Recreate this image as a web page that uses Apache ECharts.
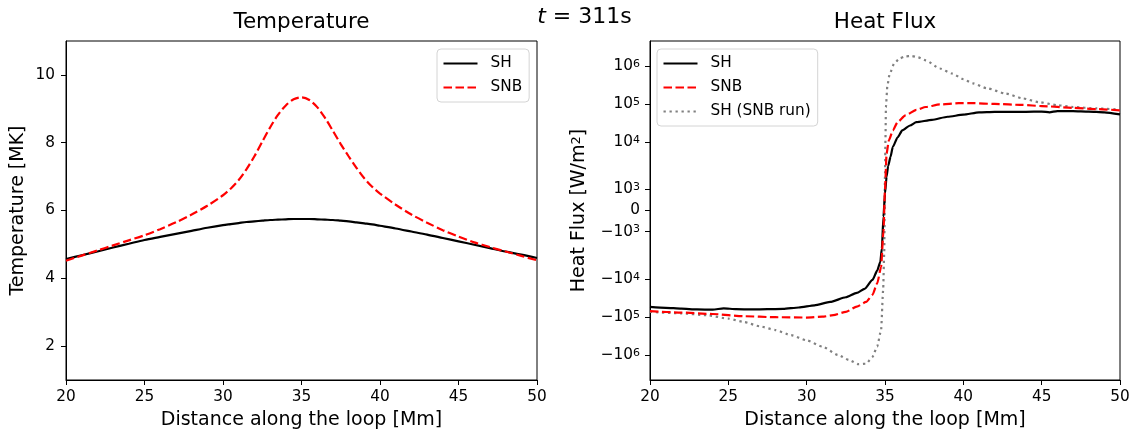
<!DOCTYPE html>
<html><head><meta charset="utf-8">
<script src="https://cdn.jsdelivr.net/npm/echarts@6/dist/echarts.min.js"></script>
<style>html,body{margin:0;padding:0;background:#fff}#c{width:1136px;height:439px}</style>
</head><body><div id="c"></div>
<script>
// ---- Temperature panel data (Mm, MK) ----
const tempX = [20,21,22,23,24,25,26,27,28,29,30,30.5,31,31.5,32,32.5,33,33.5,34,34.5,35,35.5,36,36.5,37,37.5,38,38.5,39,39.5,40,41,42,43,44,45,46,47,48,49,50];
const tempSH = [4.57,4.68,4.79,4.91,5.02,5.13,5.22,5.31,5.40,5.49,5.57,5.60,5.63,5.66,5.68,5.70,5.72,5.73,5.74,5.75,5.75,5.75,5.74,5.73,5.72,5.70,5.68,5.65,5.62,5.59,5.55,5.47,5.38,5.29,5.19,5.09,4.99,4.89,4.79,4.70,4.60];
const tempSNB = [4.52,4.67,4.82,4.97,5.12,5.27,5.45,5.65,5.88,6.14,6.45,6.65,6.9,7.22,7.6,8.03,8.45,8.82,9.1,9.28,9.34,9.26,9.05,8.73,8.35,7.96,7.6,7.26,6.95,6.7,6.5,6.17,5.88,5.64,5.42,5.23,5.06,4.92,4.79,4.66,4.53];
const tempTicks = [2,4,6,8,10];
const xTicks = [20,25,30,35,40,45,50];

// ---- Heat flux panel data (Mm, W/m^2) ----
const fluxX_SH = [20,21,22,23,24,24.7,25.5,26.5,27.5,28.5,29.5,30.5,31.5,32.5,33.2,33.7,34.2,34.5,34.7,34.8,34.9,35.0,35.1,35.2,35.35,35.5,35.8,36.1,36.6,37,38,39,40,41,42,43,44,45,45.5,46,47,48,49,50];
const fluxSH = [-5.4e4,-5.7e4,-6.0e4,-6.3e4,-6.4e4,-5.9e4,-6.2e4,-6.3e4,-6.2e4,-6.1e4,-5.6e4,-4.9e4,-4.0e4,-3.0e4,-2.3e4,-1.8e4,-1.05e4,-6e3,-3.5e3,-1.8e3,-300,800,1600,2300,4000,7400,1.3e4,2.0e4,2.7e4,3.3e4,3.8e4,4.6e4,5.2e4,6.0e4,6.2e4,6.2e4,6.2e4,6.3e4,6.0e4,6.5e4,6.5e4,6.3e4,6.0e4,5.3e4];
const fluxX_SNB = [20,22,24,26,28,30,31,31.7,32.5,33.2,33.8,34.2,34.5,34.75,34.9,35.0,35.1,35.25,35.5,35.8,36.3,37,37.6,38.5,39.7,40.6,42,43.8,45,47,48.5,50];
const fluxSNB = [-7.0e4,-7.6e4,-8.3e4,-9.5e4,-1.01e5,-1.03e5,-9.8e4,-8.9e4,-7.3e4,-5.3e4,-4.0e4,-2.6e4,-1.3e4,-4.8e3,-1.0e3,1.0e3,4.9e3,1.1e4,2.0e4,3.3e4,5.0e4,7.0e4,8.3e4,9.7e4,1.05e5,1.05e5,1.0e5,9.4e4,8.8e4,7.9e4,7.3e4,6.8e4];
const fluxX_RUN = [20,22,23.6,25,26,27,28,29,30,31,32,32.7,33.3,33.8,34.2,34.5,34.75,34.88,34.95,35.0,35.03,35.06,35.15,35.3,35.6,35.95,36.3,36.7,37.1,37.6,38.5,39.3,40,40.6,41.5,42.7,43.8,44.8,46,47,48.5,50];
const fluxRUN = [-7.3e4,-8.0e4,-8.9e4,-1.1e5,-1.35e5,-1.75e5,-2.2e5,-3.0e5,-4.1e5,-6.0e5,-1.0e6,-1.35e6,-1.75e6,-1.7e6,-1.12e6,-6e5,-2.2e5,-2.0e4,-2.0e3,1.7e3,1.2e4,8.3e4,3.0e5,6.3e5,1.2e6,1.6e6,1.8e6,1.84e6,1.7e6,1.41e6,8.6e5,6.3e5,4.5e5,3.5e5,2.6e5,1.88e5,1.4e5,1.12e5,9.3e4,8.3e4,7.6e4,7.1e4];
const fluxTicks = [-1e6,-1e5,-1e4,-1e3,0,1e3,1e4,1e5,1e6];
const fluxTickLabels = ['−10{s|6}','−10{s|5}','−10{s|4}','−10{s|3}','0','10{s|3}','10{s|4}','10{s|5}','10{s|6}'];

// symmetric log scale (linthresh 2000, linscale 1, base 10)
const LT = 2000, LS = 1 / (1 - 1 / 10);
function symlog(v) {
  const a = Math.abs(v);
  const t = a <= LT ? a / LT * LS : LS + Math.log10(a / LT);
  return v < 0 ? -t : t;
}
const FONT = 'DejaVu Sans';
const zip = (xs, ys, f) => xs.map((x, i) => [x, f ? f(ys[i]) : ys[i]]);

const axisCommon = {
  axisLine: {show: true, onZero: false, lineStyle: {color: '#000', width: 1}},
  axisTick: {show: true, length: 5, lineStyle: {color: '#000', width: 1}},
  splitLine: {show: false},
  nameTextStyle: {fontFamily: FONT, fontSize: 19, color: '#000'}
};
const labelCommon = {fontFamily: FONT, fontSize: 15.3, color: '#000'};
const legendCommon = {
  orient: 'vertical', top: 49,
  itemWidth: 34, itemHeight: 14, itemGap: 9, padding: [7, 7, 7, 5.5],
  borderColor: '#d4d4d4', borderWidth: 1, borderRadius: 4, backgroundColor: 'rgba(255,255,255,0.8)',
  itemStyle: {opacity: 0},
  textStyle: {fontFamily: FONT, fontSize: 15.3, color: '#000', lineHeight: 14, padding: [0, 0, 0, 8]}
};

const chart = echarts.init(document.getElementById('c'), null, {renderer: 'canvas'});
chart.setOption({
  animation: false,
  backgroundColor: '#fff',
  grid: [
    {left: 66, top: 41, width: 471, height: 339, show: true, borderColor: '#000', borderWidth: 1},
    {left: 650, top: 41, width: 470, height: 339, show: true, borderColor: '#000', borderWidth: 1}
  ],
  xAxis: [0, 1].map(g => Object.assign({}, axisCommon, {
    type: 'value', gridIndex: g, min: 20, max: 50,
    name: 'Distance along the loop [Mm]', nameLocation: 'middle', nameGap: 31,
    axisTick: Object.assign({}, axisCommon.axisTick, {customValues: xTicks}),
    axisLabel: Object.assign({}, labelCommon, {margin: 10, customValues: xTicks})
  })),
  yAxis: [
    Object.assign({}, axisCommon, {
      type: 'value', gridIndex: 0, min: 1, max: 11,
      name: 'Temperature [MK]', nameLocation: 'middle', nameGap: 38,
      axisTick: Object.assign({}, axisCommon.axisTick, {customValues: tempTicks}),
      axisLabel: Object.assign({}, labelCommon, {margin: 11, customValues: tempTicks})
    }),
    Object.assign({}, axisCommon, {
      type: 'value', gridIndex: 1, min: -4.47, max: 4.47,
      name: 'Heat Flux [W/m{s|2}]', nameLocation: 'middle', nameGap: 61,
      nameTextStyle: {fontFamily: FONT, fontSize: 19, color: '#000',
        rich: {s: {fontFamily: FONT, fontSize: 13, color: '#000', verticalAlign: 'top'}}},
      axisTick: Object.assign({}, axisCommon.axisTick, {customValues: fluxTicks.map(symlog)}),
      axisLabel: Object.assign({}, labelCommon, {
        margin: 10, customValues: fluxTicks.map(symlog),
        formatter: function (val) {
          let best = 0, bd = Infinity;
          fluxTicks.forEach((t, i) => { const d = Math.abs(symlog(t) - val); if (d < bd) { bd = d; best = i; } });
          return fluxTickLabels[best];
        },
        rich: {s: {fontFamily: FONT, fontSize: 11, color: '#000', verticalAlign: 'top'}}
      })
    })
  ],
  legend: [
    Object.assign({}, legendCommon, {data: ['SH', 'SNB'], left: 437}),
    Object.assign({}, legendCommon, {data: ['SH', 'SNB', 'SH (SNB run)'], left: 657})
  ],
  graphic: [
    {type: 'text', x: 301.5, y: 22, style: {text: 'Temperature', fontFamily: FONT, fontSize: 21.5, fill: '#000', align: 'center', verticalAlign: 'middle'}},
    {type: 'text', x: 885, y: 22, style: {text: 'Heat Flux', fontFamily: FONT, fontSize: 21.5, fill: '#000', align: 'center', verticalAlign: 'middle'}},
    {type: 'text', x: 584.5, y: 17, style: {text: '{i|t} = 311s', fontFamily: FONT, fontSize: 22, fill: '#000', align: 'center', verticalAlign: 'middle',
      rich: {i: {fontFamily: FONT, fontSize: 22, fontStyle: 'italic', fill: '#000'}}}}
  ],
  series: [
    {name: 'SH', type: 'line', xAxisIndex: 0, yAxisIndex: 0, data: zip(tempX, tempSH), showSymbol: false, symbol: 'none', smooth: 0.3,
     lineStyle: {color: '#000', width: 2.2}, itemStyle: {color: '#000'}, z: 3},
    {name: 'SNB', type: 'line', xAxisIndex: 0, yAxisIndex: 0, data: zip(tempX, tempSNB), showSymbol: false, symbol: 'none', smooth: 0.3,
     lineStyle: {color: '#ff0000', width: 2.2, type: [8.5, 3.5]}, itemStyle: {color: '#ff0000'}, z: 4},
    {name: 'SH', type: 'line', xAxisIndex: 1, yAxisIndex: 1, data: zip(fluxX_SH, fluxSH, symlog), showSymbol: false, symbol: 'none', smooth: 0.2, smoothMonotone: 'x',
     lineStyle: {color: '#000', width: 2.2}, itemStyle: {color: '#000'}, z: 3},
    {name: 'SNB', type: 'line', xAxisIndex: 1, yAxisIndex: 1, data: zip(fluxX_SNB, fluxSNB, symlog), showSymbol: false, symbol: 'none', smooth: 0.2, smoothMonotone: 'x',
     lineStyle: {color: '#ff0000', width: 2.2, type: [8.5, 3.5]}, itemStyle: {color: '#ff0000'}, z: 4},
    {name: 'SH (SNB run)', type: 'line', xAxisIndex: 1, yAxisIndex: 1, data: zip(fluxX_RUN, fluxRUN, symlog), showSymbol: false, symbol: 'none', smooth: 0.2, smoothMonotone: 'x',
     lineStyle: {color: '#808080', width: 2.2, type: [2.3, 3.7]}, itemStyle: {color: '#808080'}, z: 2}
  ]
});
</script>
</body></html>
